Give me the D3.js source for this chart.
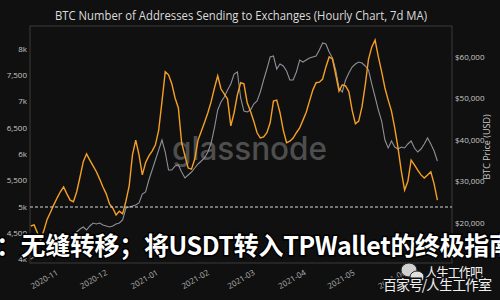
<!DOCTYPE html>
<meta charset="utf-8">
<head>
  <script src="https://d3js.org/d3.v7.min.js"></script>
</head>
<style>
body { margin: 0; background: #101010; overflow: hidden; }
svg { font-family: "Open Sans", "Noto Sans", sans-serif; display: block; }
</style>
<body>
<div id="chart"></div>
<script>
// first sample date, one sample every 2 days
var startDay = "2020-10-17";
var stepDays = 2;

// addresses sending to exchanges (7d MA)
var addresses = [
  4640, 4660, 4510, 4370, 4560, 4770, 4900, 5040, 5170, 5290,
  5380, 5250, 5130, 5100, 5290, 5570, 5860, 6010, 5890, 5780,
  5670, 5530, 5380, 5250, 5060, 4980, 4850, 4920, 4870, 5110,
  5400, 5990, 6270, 5990, 5610, 5840, 5970, 6060, 6180, 6460,
  7000, 7570, 7510, 7340, 7070, 6880, 6220, 5970, 5740, 5720,
  5910, 6270, 6440, 6610, 6790, 7000, 7260, 7490, 7240, 7150,
  7050, 6540, 6790, 7130, 7360, 7340, 6980, 6820, 6630, 6410,
  6310, 6330, 6410, 6600, 7010, 7030, 6790, 6460, 6220, 6250,
  6310, 6410, 6500, 6650, 6800, 7010, 7220, 7360, 7370, 7430,
  7660, 7850, 7810, 7510, 7200, 7320, 7300, 7190, 6840, 6580,
  6630, 6900, 7320, 7810, 8040, 8170, 7850, 7570, 7260, 7030,
  6820, 6500, 6120, 5680, 5320, 5490, 5890, 5800, 5700, 5610,
  5550, 5610, 5670, 5440, 5130
];

// BTC price in USD, same dates
var price = [
  11320, 11800, 12050, 12290, 12530, 13010, 13250, 13730, 14220, 14700,
  15420, 15900, 16380, 17110, 17830, 18550, 19040, 18310, 19280, 20000,
  19760, 20000, 19520, 19280, 19040, 19280, 19760, 20000, 20720, 23620,
  23860, 24100, 24340, 24820, 26990, 27470, 30360, 32770, 35180, 37590,
  40000, 37110, 32770, 32770, 33740, 33980, 32290, 30850, 31570, 32290,
  33260, 34220, 34940, 35670, 37110, 39280, 42900, 47230, 49160, 50370,
  52050, 53500, 55910, 56390, 50130, 46990, 46750, 47230, 48680, 49400,
  51570, 54460, 57110, 60010, 60250, 57110, 58320, 57840, 56630, 54460,
  54460, 56390, 59280, 58800, 59280, 59770, 60010, 60250, 61690, 63380,
  63140, 61210, 59770, 56870, 52540, 51570, 54460, 56150, 57600, 58320,
  58800, 58560, 57840, 56870, 53500, 50370, 47230, 44580, 40000, 38080,
  39760, 38320, 37830, 38320, 38080, 39040, 39760, 38080, 37110, 37830,
  39040, 40490, 39040, 37350, 34940
];

var leftTicks = [4000, 4500, 5000, 5500, 6000, 6500, 7000, 7500, 8000];
var leftTickLabels = ["4k", "4,500", "5k", "5,500", "6k", "6,500", "7k", "7,500", "8k"];
var rightTicks = [20000, 30000, 40000, 50000, 60000];
var rightTickLabels = ["$20,000", "$30,000", "$40,000", "$50,000", "$60,000"];
var monthTicks = ["2020-11", "2020-12", "2021-01", "2021-02", "2021-03", "2021-04", "2021-05", "2021-06"];
var refLevel = 5000;

var title = "BTC Number of Addresses Sending to Exchanges (Hourly Chart, 7d MA)";
var banner = "：无缝转移；将USDT转入TPWallet的终极指南";

var width = 500;
var height = 300;
var plot = {left: 30, right: 452, top: 26, bottom: 263};

var parseDay = d3.utcParse("%Y-%m-%d");
var parseMonth = d3.utcParse("%Y-%m");
var day0 = parseDay(startDay);
var dates = addresses.map(function(d, i) { return d3.utcDay.offset(day0, i * stepDays); });

var x = d3.scaleUtc()
  .domain([new Date(Date.UTC(2020, 9, 16, 12)), new Date(Date.UTC(2021, 5, 30, 22))])
  .range([plot.left, plot.right]);

var yLeft = d3.scaleLinear()
  .domain([3937, 8437])
  .range([plot.bottom, plot.top]);

var yRight = d3.scaleLinear()
  .domain([10360, 67480])
  .range([plot.bottom, plot.top]);

var svg = d3.select("#chart").append("svg")
  .attr("width", width)
  .attr("height", height);

svg.append("rect")
  .attr("width", width)
  .attr("height", height)
  .attr("fill", "#101010");

// title
svg.append("text")
  .attr("x", 55)
  .attr("y", 20)
  .attr("textLength", 372)
  .attr("lengthAdjust", "spacingAndGlyphs")
  .attr("fill", "#dcdcdc")
  .style("font-size", "12px")
  .text(title);

// plot frame
svg.append("rect")
  .attr("x", plot.left)
  .attr("y", plot.top)
  .attr("width", plot.right - plot.left)
  .attr("height", plot.bottom - plot.top)
  .attr("fill", "none")
  .attr("stroke", "#3a3a3a")
  .attr("stroke-width", 1);

// glassnode watermark
svg.append("text")
  .attr("x", 172)
  .attr("y", 160)
  .attr("textLength", 155)
  .attr("lengthAdjust", "spacingAndGlyphs")
  .attr("fill", "#4e4e4e")
  .style("font-size", "32px")
  .style("font-family", "Inter, 'Open Sans', sans-serif")
  .style("font-weight", "500")
  .text("glassnode");

var priceLine = d3.line()
  .x(function(d, i) { return x(dates[i]); })
  .y(function(d) { return yRight(d); });

var addrLine = d3.line()
  .x(function(d, i) { return x(dates[i]); })
  .y(function(d) { return yLeft(d); });

svg.append("path")
  .attr("d", priceLine(price))
  .attr("fill", "none")
  .attr("stroke", "#8f8f98")
  .attr("stroke-width", 1.1);

svg.append("path")
  .attr("d", addrLine(addresses))
  .attr("fill", "none")
  .attr("stroke", "#f5a024")
  .attr("stroke-width", 1.4);

// reference line
svg.append("line")
  .attr("x1", plot.left)
  .attr("x2", plot.right)
  .attr("y1", yLeft(refLevel))
  .attr("y2", yLeft(refLevel))
  .attr("stroke", "#d8d8d8")
  .attr("stroke-width", 1.2)
  .attr("stroke-dasharray", "3,2");

// left axis
svg.selectAll(".ltick")
  .data(leftTicks)
  .enter()
  .append("text")
    .attr("class", "ltick")
    .attr("x", 27)
    .attr("y", function(d) { return yLeft(d); })
    .attr("dy", "0.35em")
    .attr("text-anchor", "end")
    .attr("fill", "#c8c8c8")
    .style("font-size", "8px")
    .text(function(d, i) { return leftTickLabels[i]; });

// right axis
svg.selectAll(".rtick")
  .data(rightTicks)
  .enter()
  .append("text")
    .attr("class", "rtick")
    .attr("x", 455)
    .attr("y", function(d) { return yRight(d); })
    .attr("dy", "0.35em")
    .attr("fill", "#c8c8c8")
    .style("font-size", "8px")
    .text(function(d, i) { return rightTickLabels[i]; });

svg.append("text")
  .attr("transform", "translate(490,147) rotate(-90)")
  .attr("text-anchor", "middle")
  .attr("fill", "#c8c8c8")
  .style("font-size", "9px")
  .text("BTC Price (USD)");

// month labels
svg.selectAll(".xtick")
  .data(monthTicks)
  .enter()
  .append("text")
    .attr("class", "xtick")
    .attr("transform", function(d) { return "translate(" + (x(parseMonth(d)) + 1) + ",270) rotate(-30)"; })
    .attr("dy", "0.6em")
    .attr("text-anchor", "end")
    .attr("fill", "#b0b0b0")
    .style("font-size", "8px")
    .text(function(d) { return d; });

// overlay banner text
svg.append("text")
  .attr("x", -4)
  .attr("y", 255)
  .attr("textLength", 518)
  .attr("lengthAdjust", "spacing")
  .attr("fill", "#ffffff")
  .attr("stroke", "#000000")
  .attr("stroke-width", 3)
  .attr("paint-order", "stroke")
  .style("font-family", "'Noto Sans CJK SC', sans-serif")
  .style("font-weight", "bold")
  .style("font-size", "25px")
  .text(banner);

// bottom right watermark
var wm = svg.append("g");
wm.append("ellipse").attr("cx", 409).attr("cy", 270).attr("rx", 8).attr("ry", 7)
  .attr("fill", "#d0d0d0").attr("stroke", "#222").attr("stroke-width", 1);
wm.append("ellipse").attr("cx", 417).attr("cy", 277).attr("rx", 7).attr("ry", 6)
  .attr("fill", "#e0e0e0").attr("stroke", "#222").attr("stroke-width", 1);
wm.append("text")
  .attr("x", 425)
  .attr("y", 277)
  .attr("textLength", 58)
  .attr("fill", "#f0f0f0")
  .attr("stroke", "#101010")
  .attr("stroke-width", 2)
  .attr("paint-order", "stroke")
  .style("font-family", "'Noto Sans CJK SC', sans-serif")
  .style("font-size", "13px")
  .text("人生工作吧");
wm.append("text")
  .attr("x", 383)
  .attr("y", 290)
  .attr("textLength", 109)
  .attr("fill", "#f0f0f0")
  .attr("stroke", "#101010")
  .attr("stroke-width", 3)
  .attr("paint-order", "stroke")
  .style("font-family", "'Noto Sans CJK SC', sans-serif")
  .style("font-size", "14px")
  .text("百家号/人生工作室");
</script>
</body>
